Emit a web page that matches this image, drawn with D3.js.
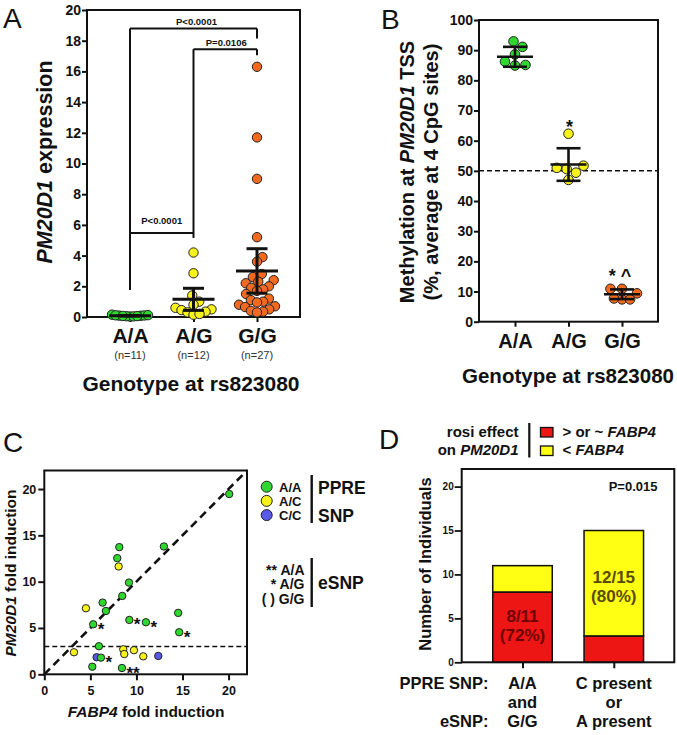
<!DOCTYPE html>
<html><head><meta charset="utf-8">
<script src="https://cdn.jsdelivr.net/npm/d3@7"></script>
<style>body{margin:0;background:#fff}svg{display:block}text{white-space:pre}</style>
</head><body>
<svg id="fig" width="677" height="735"></svg>
<script>
// ---------------- DATA ----------------
// Panel A
const genotypesA = ["A/A", "A/G", "G/G"];
const nLabelsA = ["(n=11)", "(n=12)", "(n=27)"];
const ticksA = [0, 2, 4, 6, 8, 10, 12, 14, 16, 18, 20];
const exprAA = [0.03, 0.05, 0.08, 0.10, 0.12, 0.15, 0.04, 0.06, 0.09, 0.11, 0.07];
const exprAG = [4.2, 2.85, 1.4, 1.0, 0.8, 0.6, 0.5, 0.45, 0.35, 0.3, 0.15, 0.2];
const exprGG = [16.3, 11.7, 9.0, 5.2, 3.9, 3.6, 2.8, 2.6, 2.4, 2.3, 2.2, 2.0, 1.9, 1.8, 1.7, 1.5, 1.2, 1.1, 1.0, 0.95, 0.8, 0.7, 0.65, 0.5, 0.4, 0.35, 0.3];
const meanA = [0.08, 1.15, 3.0];
const errA = [0.02, 0.72, 1.45];
const pLabelsA = ["P<0.0001", "P=0.0106", "P<0.0001"];

// Panel B
const genotypesB = ["A/A", "A/G", "G/G"];
const ticksB = [0, 10, 20, 30, 40, 50, 60, 70, 80, 90, 100];
const methAA = [91.1, 92.9, 88.6, 86.2, 84.9, 85.1];
const methAG = [62.3, 50.6, 51.7, 51.0, 49.4, 47.0];
const methGG = [10.9, 10.9, 9.4, 7.4, 7.4, 7.7];
const meanB = [87.8, 52.1, 9.1];
const sdB = [3.3, 5.4, 1.6];
const sigB = ["", "*", "* ^"];
const refLineB = 50;

// Panel C
const ticksC = [0, 5, 10, 15, 20];
const fabp4C = [8.14, 7.92, 8.07, 12.98, 9.19, 8.46, 4.52, 6.33, 6.69, 5.31, 9.23, 11.03, 14.53, 14.64, 5.93, 3.22, 8.57, 8.68, 9.73, 10.74, 12.37, 5.68, 6.15, 5.21, 8.43, 20.07];
const pm20d1C = [13.73, 12.54, 11.64, 13.8, 9.9, 8.46, 7.13, 7.74, 6.84, 5.4, 5.87, 5.62, 6.63, 4.54, 3.03, 2.38, 2.7, 2.19, 2.6, 1.94, 1.98, 1.84, 1.8, 0.82, 0.68, 19.46];
const ppreC = ["A/A","A/A","A/C","A/A","A/A","A/A","A/C","A/A","A/A","A/A","A/A","A/A","A/A","A/A","A/A","A/C","A/C","A/C","A/C","A/C","C/C","C/C","A/A","A/A","A/A","A/A"];
const esnpC = ["","","","","","","","","","*","*","*","","*","","","","","","","","","*","","**",""];
const ppreLegend = ["A/A", "A/C", "C/C"];
const esnpLegend = ["** A/A", "* A/G", "( ) G/G"];
const refLineC = 3;

// Panel D
const groupsD = ["AA_GG", "C_or_A"];
const redD = [8, 3];
const yellowD = [3, 12];
const fracD = ["8/11", "12/15"];
const pctD = ["(72%)", "(80%)"];
const ticksD = [0, 5, 10, 15, 20];
const rowPPRE = ["A/A", "C present"];
const rowMid = ["and", "or"];
const rowESNP = ["G/G", "A present"];

// ---------------- STYLE ----------------
const FONT = "'Liberation Sans', Arial, Helvetica, sans-serif";
const INK = "#111";
const GREEN = "#2fd82f", YELLOW = "#f7f31a", ORANGE = "#f26a1f", BLUE = "#5a5ae8";
const RED_BAR = "#ee1515", YEL_BAR = "#ffff14";

const svg = d3.select("#fig");
svg.append("rect").attr("width", 677).attr("height", 735).attr("fill", "#fff");

function addText(parent, x, y, parts, size, opts = {}) {
  const t = parent.append("text").attr("x", x).attr("y", y)
    .attr("font-family", FONT).attr("font-size", size)
    .attr("font-weight", opts.weight || "bold")
    .attr("text-anchor", opts.anchor || "start")
    .attr("fill", opts.fill || INK);
  if (opts.rotate) t.attr("transform", `rotate(${opts.rotate},${x},${y})`);
  const arr = typeof parts === "string" ? [[parts, false]] : parts;
  arr.forEach(([s, it]) => t.append("tspan").attr("font-style", it ? "italic" : "normal").text(s));
  return t;
}
function styleAxis(g, size, sw = 2) {
  g.select(".domain").remove();
  g.selectAll(".tick line").attr("stroke", INK).attr("stroke-width", sw);
  g.selectAll(".tick text").attr("font-family", FONT).attr("font-size", size)
    .attr("font-weight", "bold").attr("fill", INK);
}
function line(g, x1, y1, x2, y2, w, dash) {
  const l = g.append("line").attr("x1", x1).attr("y1", y1).attr("x2", x2).attr("y2", y2)
    .attr("stroke", INK).attr("stroke-width", w);
  if (dash) l.attr("stroke-dasharray", dash);
  return l;
}
// Simple beeswarm: offsets in px, compressed to maxHalf
function swarm(values, yScale, dmin, maxHalf) {
  const pts = values.map(v => ({ v, y: yScale(v), x: 0 }));
  const order = pts.slice().sort((a, b) => a.v - b.v);
  const placed = [];
  const step = 0.5;
  for (const p of order) {
    for (let k = 0; k < 400; k++) {
      const cands = k === 0 ? [0] : [k * step, -k * step];
      let found = null;
      for (const c of cands) {
        if (placed.every(q => (q.x - c) ** 2 + (q.y - p.y) ** 2 >= dmin * dmin)) { found = c; break; }
      }
      if (found !== null) { p.x = found; break; }
    }
    placed.push(p);
  }
  const m = d3.max(pts, p => Math.abs(p.x));
  const f = m > maxHalf ? maxHalf / m : 1;
  pts.forEach(p => p.x *= f);
  return pts;
}

// ---------------- PANEL A ----------------
{
  const g = svg.append("g");
  const xA = d3.scalePoint().domain(genotypesA).range([130, 257]);
  const yA = d3.scaleLinear().domain([0, 20]).range([317, 10]);
  addText(g, 3, 28, "A", 28, { weight: "normal" });

  g.append("g").attr("transform", "translate(87,0)")
    .call(d3.axisLeft(yA).tickValues(ticksA).tickSize(5).tickPadding(1))
    .call(a => styleAxis(a, 14));
  g.append("g").attr("transform", "translate(0,317)")
    .call(d3.axisBottom(xA).tickSize(5).tickPadding(6))
    .call(a => styleAxis(a, 21));
  g.append("rect").attr("x", 87).attr("y", yA(20)).attr("width", 213).attr("height", yA(0) - yA(20))
    .attr("fill", "none").attr("stroke", INK).attr("stroke-width", 2);

  genotypesA.forEach((c, i) => addText(g, xA(c), 359, nLabelsA[i], 11, { anchor: "middle", weight: "normal", fill: "#333" }));
  addText(g, 191, 391, "Genotype at rs823080", 21, { anchor: "middle" });
  addText(g, 52, 162, [["PM20D1", true], [" expression", false]], 21.5, { anchor: "middle", rotate: -90 });

  // significance brackets (data units)
  const bw = 2;
  // AA vs GG
  line(g, xA("A/A"), yA(18.8), xA("G/G"), yA(18.8), bw);
  line(g, xA("A/A"), yA(18.8), xA("A/A"), yA(1.76), bw);
  line(g, xA("G/G"), yA(18.8), xA("G/G"), yA(18.15), bw);
  addText(g, (xA("A/A") + xA("G/G")) / 2 + 3, yA(18.8) - 3.5, pLabelsA[0], 9.5, { anchor: "middle" });
  // AG vs GG
  line(g, xA("A/G"), yA(17.45), xA("G/G"), yA(17.45), bw);
  line(g, xA("A/G"), yA(17.45), xA("A/G"), yA(5.15), bw);
  line(g, xA("G/G"), yA(17.45), xA("G/G"), yA(17.05), bw);
  addText(g, (xA("A/G") + xA("G/G")) / 2 + 1, yA(17.45) - 3.3, pLabelsA[1], 9.5, { anchor: "middle" });
  // AA vs AG
  line(g, xA("A/A"), yA(5.47), xA("A/G"), yA(5.47), bw);
  addText(g, (xA("A/A") + xA("A/G")) / 2, yA(5.47) - 9, pLabelsA[2], 9.5, { anchor: "middle" });

  const groups = [exprAA, exprAG, exprGG];
  const cols = [GREEN, YELLOW, ORANGE];
  groups.forEach((vals, i) => {
    const cx = xA(genotypesA[i]);
    const pts = swarm(vals, yA, 9.4, 18);
    g.append("g").selectAll("circle").data(pts).join("circle")
      .attr("cx", d => cx + d.x).attr("cy", d => d.y).attr("r", 4.7)
      .attr("fill", cols[i]).attr("stroke", "#222").attr("stroke-width", 1);
  });
  groups.forEach((vals, i) => {
    const cx = xA(genotypesA[i]);
    const m = meanA[i], e = errA[i];
    line(g, cx - 21, yA(m), cx + 21, yA(m), 3);
    line(g, cx, yA(m - e), cx, yA(m + e), 3);
    line(g, cx - 10.5, yA(m + e), cx + 10.5, yA(m + e), 3);
    line(g, cx - 10.5, yA(m - e), cx + 10.5, yA(m - e), 3);
  });
}

// ---------------- PANEL B ----------------
{
  const g = svg.append("g");
  const xB = d3.scalePoint().domain(genotypesB).range([515, 622]);
  const yB = d3.scaleLinear().domain([0, 100]).range([321.7, 20]);
  addText(g, 381, 28.5, "B", 28, { weight: "normal" });

  g.append("g").attr("transform", "translate(479,0)")
    .call(d3.axisLeft(yB).tickValues(ticksB).tickSize(5).tickPadding(1))
    .call(a => styleAxis(a, 14));
  g.append("g").attr("transform", `translate(0,${yB(0)})`)
    .call(d3.axisBottom(xB).tickSize(5).tickPadding(7))
    .call(a => styleAxis(a, 20));
  g.append("rect").attr("x", 479).attr("y", yB(100)).attr("width", 179).attr("height", yB(0) - yB(100))
    .attr("fill", "none").attr("stroke", INK).attr("stroke-width", 2);

  addText(g, 568, 383, "Genotype at rs823080", 20.5, { anchor: "middle" });
  addText(g, 414, 172, [["Methylation at ", false], ["PM20D1", true], [" TSS", false]], 20, { anchor: "middle", rotate: -90 });
  addText(g, 438, 172, "(%, average at 4 CpG sites)", 20, { anchor: "middle", rotate: -90 });

  line(g, 479, yB(refLineB), 658, yB(refLineB), 1.5, "5,3");

  const groups = [methAA, methAG, methGG];
  const cols = [GREEN, YELLOW, ORANGE];
  const sigGap = [0, 0.5, 6.5];
  groups.forEach((vals, i) => {
    const cx = xB(genotypesB[i]);
    const pts = swarm(vals, yB, 10.5, 15);
    g.append("g").selectAll("circle").data(pts).join("circle")
      .attr("cx", d => cx + d.x).attr("cy", d => d.y).attr("r", 4.8)
      .attr("fill", cols[i]).attr("stroke", "#222").attr("stroke-width", 1);
  });
  groups.forEach((vals, i) => {
    const cx = xB(genotypesB[i]);
    const m = meanB[i], e = sdB[i];
    line(g, cx - 18, yB(m), cx + 18, yB(m), 2.6);
    line(g, cx, yB(m - e), cx, yB(m + e), 2.6);
    line(g, cx - 12, yB(m + e), cx + 12, yB(m + e), 2.6);
    line(g, cx - 12, yB(m - e), cx + 12, yB(m - e), 2.6);
    if (sigB[i]) {
      const top = d3.max(vals);
      addText(g, cx + (i === 2 ? -2 : 1), yB(top) - sigGap[i], sigB[i], 18, { anchor: "middle" });
    }
  });
}

// ---------------- PANEL C ----------------
{
  const g = svg.append("g");
  const xC = d3.scaleLinear().domain([0, 22]).range([44.3, 247]);
  const yC = d3.scaleLinear().domain([0, 22]).range([674.3, 470.5]);
  addText(g, 3, 452, "C", 28, { weight: "normal" });

  g.append("g").attr("transform", `translate(0,${yC(0)})`)
    .call(d3.axisBottom(xC).tickValues(ticksC).tickSize(6).tickPadding(6))
    .call(a => styleAxis(a, 12.5));
  g.append("g").attr("transform", `translate(${xC(0)},0)`)
    .call(d3.axisLeft(yC).tickValues(ticksC).tickSize(6).tickPadding(2))
    .call(a => styleAxis(a, 12.5));
  g.append("rect").attr("x", xC(0)).attr("y", yC(22)).attr("width", xC(22) - xC(0)).attr("height", yC(0) - yC(22))
    .attr("fill", "none").attr("stroke", INK).attr("stroke-width", 2);

  addText(g, 146, 717, [["FABP4", true], [" fold induction", false]], 15.5, { anchor: "middle" });
  addText(g, 15.5, 573, [["PM20D1", true], [" fold induction", false]], 15.5, { anchor: "middle", rotate: -90 });

  line(g, xC(0), yC(refLineC), xC(22), yC(refLineC), 1.6, "5,3");
  line(g, xC(0), yC(0), xC(22), yC(22), 2.6, "8,5");

  const colMap = { "A/A": GREEN, "A/C": YELLOW, "C/C": BLUE };
  const pts = fabp4C.map((f, i) => ({ f, p: pm20d1C[i], s: ppreC[i], e: esnpC[i] }));
  g.append("g").selectAll("circle").data(pts).join("circle")
    .attr("cx", d => xC(d.f)).attr("cy", d => yC(d.p)).attr("r", 3.7)
    .attr("fill", d => colMap[d.s]).attr("stroke", "#222").attr("stroke-width", 1);
  pts.filter(d => d.e).forEach(d => {
    addText(g, xC(d.f) + 4.5, yC(d.p) + 10.5, d.e, 17, { weight: "bold" });
  });

  // legends
  ppreLegend.forEach((lab, i) => {
    const cy = 486.7 + i * 14.2;
    g.append("circle").attr("cx", 266.7).attr("cy", cy).attr("r", 5.5)
      .attr("fill", colMap[lab]).attr("stroke", "#222").attr("stroke-width", 1);
    addText(g, 279, cy + 4.8, lab, 13);
  });
  line(g, 311.7, 475, 311.7, 523, 2.4);
  addText(g, 318, 494, "PPRE", 17.5);
  addText(g, 318, 522, "SNP", 17.5);

  esnpLegend.forEach((lab, i) => addText(g, 304.5, 574.5 + i * 14.6, lab, 14, { anchor: "end" }));
  line(g, 311.7, 558, 311.7, 607, 2.4);
  addText(g, 318, 589, "eSNP", 17.5);
}

// ---------------- PANEL D ----------------
{
  const g = svg.append("g");
  const xD = d3.scalePoint().domain(groupsD).range([522.5, 613.8]);
  const yD = d3.scaleLinear().domain([0, 22]).range([662.3, 469]);
  const bwid = 59.5;
  addText(g, 379, 448.5, "D", 28, { weight: "normal" });

  // stacked bars
  groupsD.forEach((k, i) => {
    const cx = xD(k);
    g.append("rect").attr("x", cx - bwid / 2).attr("y", yD(redD[i])).attr("width", bwid)
      .attr("height", yD(0) - yD(redD[i])).attr("fill", RED_BAR).attr("stroke", INK).attr("stroke-width", 1.5);
    g.append("rect").attr("x", cx - bwid / 2).attr("y", yD(redD[i] + yellowD[i])).attr("width", bwid)
      .attr("height", yD(redD[i]) - yD(redD[i] + yellowD[i])).attr("fill", YEL_BAR).attr("stroke", INK).attr("stroke-width", 1.5);
  });
  // labels inside bars
  addText(g, xD(groupsD[0]), yD(redD[0] / 2) - 5.5, fracD[0], 17, { anchor: "middle", fill: "#6e0000" });
  addText(g, xD(groupsD[0]), yD(redD[0] / 2) + 13.5, pctD[0], 17, { anchor: "middle", fill: "#6e0000" });
  const ymid2 = yD(redD[1] + yellowD[1] / 2);
  addText(g, xD(groupsD[1]), ymid2 - 0.5, fracD[1], 17, { anchor: "middle", fill: "#5a4a00" });
  addText(g, xD(groupsD[1]), ymid2 + 18.5, pctD[1], 17, { anchor: "middle", fill: "#5a4a00" });

  g.append("g").attr("transform", "translate(461.7,0)")
    .call(d3.axisLeft(yD).tickValues(ticksD).tickSize(7).tickPadding(1))
    .call(a => styleAxis(a, 10, 1.8));
  g.append("g").attr("transform", `translate(0,${yD(0)})`)
    .call(d3.axisBottom(xD).tickSize(6).tickFormat(""))
    .call(a => styleAxis(a, 10, 2));
  g.append("rect").attr("x", 461.7).attr("y", yD(22)).attr("width", 674.3 - 461.7).attr("height", yD(0) - yD(22))
    .attr("fill", "none").attr("stroke", INK).attr("stroke-width", 2);

  addText(g, 657.5, 490.7, "P=0.015", 13, { anchor: "end" });
  addText(g, 430.5, 564, "Number of Individuals", 16.5, { anchor: "middle", rotate: -90 });

  // legend
  addText(g, 518.5, 436.7, "rosi effect", 15, { anchor: "end" });
  addText(g, 518.5, 455, [["on ", false], ["PM20D1", true]], 15, { anchor: "end" });
  line(g, 529.3, 423, 529.3, 457.5, 2.2);
  g.append("rect").attr("x", 540.5).attr("y", 427.5).attr("width", 12.5).attr("height", 9.5)
    .attr("fill", RED_BAR).attr("stroke", INK).attr("stroke-width", 1.3);
  g.append("rect").attr("x", 540.5).attr("y", 446).attr("width", 12.5).attr("height", 9.5)
    .attr("fill", YEL_BAR).attr("stroke", INK).attr("stroke-width", 1.3);
  addText(g, 562.5, 437, [["> or ~ ", false], ["FABP4", true]], 15);
  addText(g, 562.5, 455.3, [["< ", false], ["FABP4", true]], 15);

  // category rows
  addText(g, 488.5, 689, "PPRE SNP:", 16.5, { anchor: "end" });
  addText(g, 488.5, 727.3, "eSNP:", 16.5, { anchor: "end" });
  groupsD.forEach((k, i) => {
    const cx = xD(k);
    addText(g, cx, 689, rowPPRE[i], 16.5, { anchor: "middle" });
    addText(g, cx, 708.3, rowMid[i], 16.5, { anchor: "middle" });
    addText(g, cx, 727.3, rowESNP[i], 16.5, { anchor: "middle" });
  });
}
</script>
</body></html>
